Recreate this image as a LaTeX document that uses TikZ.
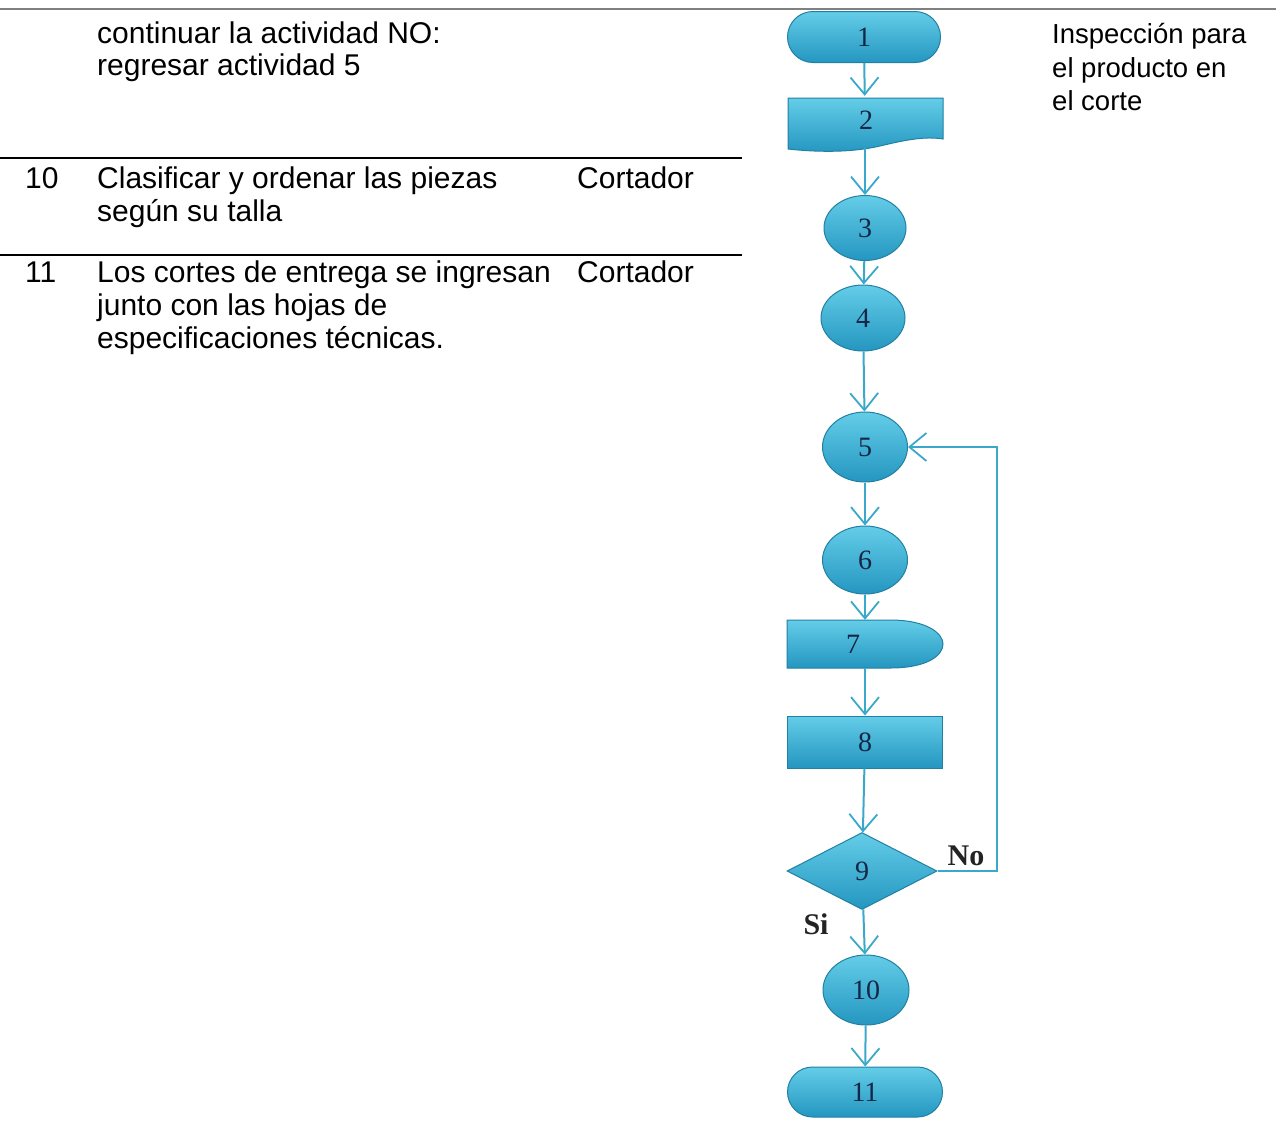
\documentclass[tikz,border=0pt]{standalone}
\usepackage{fontspec}
\setmainfont{Liberation Sans}
\newfontfamily\serifnum{Liberation Serif}
\usetikzlibrary{shapes.geometric,shapes.misc,arrows.meta}
\definecolor{shtop}{RGB}{100,205,232}
\definecolor{shbot}{RGB}{36,150,192}
\definecolor{shedge}{RGB}{34,128,162}
\definecolor{conncol}{RGB}{58,168,202}
\definecolor{numcol}{RGB}{22,38,70}
\definecolor{rulegray}{RGB}{128,128,128}
\definecolor{branchcol}{RGB}{35,35,35}
\tikzset{
  lefttext/.style={font=\fontsize{30}{33}\selectfont, anchor=base west, inner sep=0pt},
  righttext/.style={font=\fontsize{27.5}{33}\selectfont, anchor=base west, inner sep=0pt},
  flowshape/.style={draw=shedge, line width=1pt, top color=shtop, bottom color=shbot},
  numtext/.style={font=\serifnum\fontsize{28}{28}\selectfont, text=numcol},
  ellnode/.style={ellipse, flowshape, numtext, inner sep=0pt},
  termnode/.style={rounded rectangle, flowshape, numtext, inner sep=0pt},
  boxnode/.style={rectangle, flowshape, numtext, inner sep=0pt},
  ghost/.style={rectangle, numtext, inner sep=0pt},
  conn/.style={draw=conncol, line width=2pt, -{Straight Barb[length=17pt,width=28pt,line width=1.8pt]}},
  branch/.style={font=\serifnum\bfseries\fontsize{30}{30}\selectfont, text=branchcol, inner sep=0pt}
}
\begin{document}
\begin{tikzpicture}[x=1pt,y=-1pt]
\useasboundingbox (0,0) rectangle (1276,1130);
% table rules
\draw[line width=2pt, draw=rulegray] (0,9) -- (1276,9);
\draw[line width=2pt] (0,158) -- (742,158);
\draw[line width=2pt] (0,255) -- (742,255);
% left table text
\node[lefttext] (t1a) at (97,43) {continuar la actividad NO:};
\node[lefttext] (t1b) at (97,75) {regresar actividad 5};
\node[lefttext] (n10l) at (25,188) {10};
\node[lefttext] (t10a) at (97,188) {Clasificar y ordenar las piezas};
\node[lefttext] (t10b) at (97,221) {según su talla};
\node[lefttext] (r10) at (577,188) {Cortador};
\node[lefttext] (n11l) at (25,282) {11};
\node[lefttext] (t11a) at (97,282) {Los cortes de entrega se ingresan};
\node[lefttext] (t11b) at (97,315) {junto con las hojas de};
\node[lefttext] (t11c) at (97,348) {especificaciones técnicas.};
\node[lefttext] (r11) at (577,282) {Cortador};
% right text
\node[righttext] (i1) at (1052,43) {Inspección para};
\node[righttext] (i2) at (1052,77) {el producto en};
\node[righttext] (i3) at (1052,110) {el corte};
% flowchart shapes
\node[termnode, minimum width=153pt, minimum height=51pt] (n1) at (864,37) {1};
\path[flowshape] (788,98) -- (943,98) -- (943,139)
   .. controls (925,136) and (905,140) .. (880,146)
   .. controls (850,153) and (815,152) .. (788,149) -- cycle;
\node[ghost, minimum width=155pt, minimum height=52pt] (n2) at (865,122) {};
\node[numtext] (l2) at (866,120) {2};
\node[ellnode, minimum width=82pt, minimum height=65pt] (n3) at (865,228) {3};
\node[ellnode, minimum width=84pt, minimum height=66pt] (n4) at (863,318) {4};
\node[ellnode, minimum width=85pt, minimum height=70pt] (n5) at (865,447) {5};
\node[ellnode, minimum width=85pt, minimum height=68pt] (n6) at (865,560) {6};
\path[flowshape] (787,620) -- (890,620)
   .. controls (928,620) and (943,634) .. (943,644)
   .. controls (943,655) and (928,668) .. (890,668) -- (787,668) -- cycle;
\node[ghost, minimum width=156pt, minimum height=48pt] (n7) at (865,644) {};
\node[numtext] (l7) at (853,644) {7};
\node[boxnode, minimum width=155pt, minimum height=52pt] (n8) at (865,742) {8};
\node[diamond, flowshape, numtext, inner sep=0pt, minimum width=150pt, minimum height=77pt] (n9) at (862,871) {9};
\node[ellnode, minimum width=86pt, minimum height=70pt] (n10) at (866,990) {10};
\node[termnode, minimum width=155pt, minimum height=50pt] (n11) at (865,1092) {11};
% connectors
\draw[conn] (n1) -- (n2);
\draw[conn] (n2) -- (n3);
\draw[conn] (n3) -- (n4);
\draw[conn] (n4) -- (n5);
\draw[conn] (n5) -- (n6);
\draw[conn] (n6) -- (n7);
\draw[conn] (n7) -- (n8);
\draw[conn] (n8) -- (n9);
\draw[conn] (n9) -- (n10);
\draw[conn] (n10) -- (n11);
\coordinate (fb) at (997,0);
\draw[conn] (n9.east) -- (n9.east -| fb) |- (n5.east);
\node[branch] (no) at (966,856) {No};
\node[branch] (si) at (816,924) {Si};
\end{tikzpicture}
\end{document}
